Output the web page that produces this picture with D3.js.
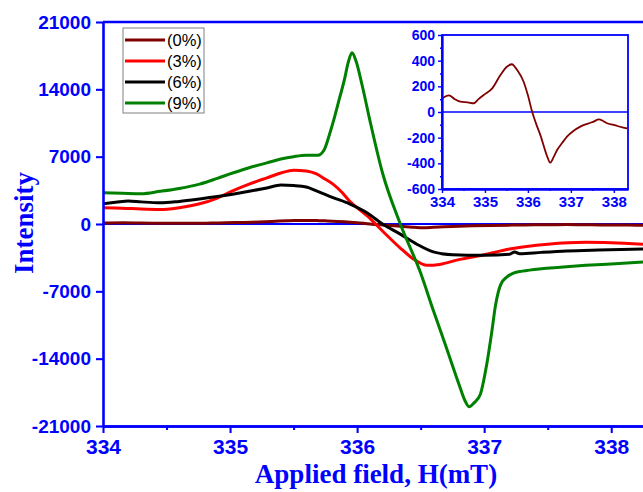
<!DOCTYPE html>
<html>
<head>
<meta charset="utf-8">
<script src="https://cdn.jsdelivr.net/npm/d3@7/dist/d3.min.js"></script>
<style>
	body { margin: 0; background: #ffffff; }
	svg { display: block; }
</style>
</head>
<body>
<script>
// EPR spectra, intensity vs applied field (mT)
var seriesNames = [ "(0%)", "(3%)", "(6%)", "(9%)" ];
var seriesColors = [ "#800000", "#ff0000", "#000000", "#008000" ];

var sig0 = [ [334.0, 106], [334.16, 130], [334.3, 100], [334.43, 80], [334.6, 75], [334.74, 68], [334.85, 100],
		[334.97, 132], [335.17, 184], [335.36, 288], [335.51, 353], [335.63, 372], [335.7, 350], [335.75, 327],
		[335.9, 236], [336.0, 130], [336.1, 0], [336.2, -100], [336.29, -180], [336.45, -348], [336.52, -395],
		[336.6, -350], [336.68, -296], [336.8, -240], [336.91, -192], [337.05, -150], [337.22, -114], [337.4, -90],
		[337.53, -75], [337.65, -57], [337.75, -70], [337.84, -88], [338.0, -100], [338.08, -109], [338.2, -120],
		[338.31, -127] ];

var sig3 = [ [334.0, 1700], [334.15, 1650], [334.3, 1550], [334.45, 1500], [334.6, 1700], [334.76, 2100],
		[334.9, 2700], [335.02, 3450], [335.15, 4150], [335.29, 4800], [335.4, 5300], [335.5, 5600], [335.6, 5500],
		[335.68, 5200], [335.75, 4650], [335.81, 4150], [335.88, 3300], [335.94, 2400], [336.08, 840], [336.2, -730],
		[336.34, -2500], [336.45, -3700], [336.55, -4300], [336.65, -4200], [336.8, -3700], [337.0, -3200],
		[337.2, -2600], [337.5, -2100], [337.8, -1900], [338.0, -1950], [338.25, -2100] ];

var sig6 = [ [334.0, 2100], [334.1, 2250], [334.2, 2400], [334.3, 2300], [334.45, 2200], [334.6, 2350],
		[334.76, 2600], [334.9, 2850], [335.02, 3100], [335.15, 3400], [335.29, 3750], [335.4, 4050], [335.5, 4000],
		[335.6, 3850], [335.68, 3450], [335.81, 2750], [335.94, 2100], [336.08, 1150], [336.2, 0], [336.34, -1050],
		[336.47, -2100], [336.6, -2900], [336.75, -3200], [336.87, -3250], [337.0, -3250], [337.2, -3150],
		[337.24, -2900], [337.28, -3100], [337.45, -2950], [337.65, -2800], [337.9, -2700], [338.25, -2600] ];

var sig9 = [ [334.0, 3250], [334.15, 3200], [334.3, 3150], [334.45, 3400], [334.6, 3700], [334.76, 4150],
		[334.9, 4750], [335.02, 5300], [335.15, 5850], [335.29, 6350], [335.4, 6750], [335.5, 7000], [335.6, 7150],
		[335.69, 7150], [335.74, 7700], [335.78, 9200], [335.82, 11000], [335.86, 13000], [335.9, 15000],
		[335.93, 16800], [335.96, 17800], [335.99, 17000], [336.04, 14400], [336.1, 10800], [336.2, 5300],
		[336.34, 0], [336.5, -5100], [336.6, -9000], [336.7, -12750], [336.8, -16600], [336.85, -18400],
		[336.88, -19000], [336.92, -18600], [336.97, -17700], [337.02, -14600], [337.06, -11200], [337.09, -8400],
		[337.13, -6300], [337.18, -5500], [337.23, -5100], [337.3, -4900], [337.45, -4650], [337.6, -4500],
		[337.8, -4300], [338.0, -4150], [338.25, -3950] ];

var allSeries = [ sig0, sig3, sig6, sig9 ];

var mainYTicks = [ -21000, -14000, -7000, 0, 7000, 14000, 21000 ];
var mainXTicks = [ 334, 335, 336, 337, 338 ];
var mainXMinor = [ 334.5, 335.5, 336.5, 337.5 ];
var insetYTicks = [ -600, -400, -200, 0, 200, 400, 600 ];
var insetYMinor = [ -500, -300, -100, 100, 300, 500 ];
var insetXTicks = [ 334, 335, 336, 337, 338 ];
var insetXMinor = [ 334.5, 335.5, 336.5, 337.5 ];

var W = 643, H = 492;
var blue = "#0000ff";
var sans = "'Liberation Sans', Arial, sans-serif";
var serif = "'Liberation Serif', 'Times New Roman', serif";

var svg = d3.select("body").append("svg")//
.attr("width", W)//
.attr("height", H);

// main plot
var plotLeft = 103, plotTop = 22, plotBottom = 426;
var x = d3.scaleLinear().domain([ 334, 338.25 ]).range([ plotLeft, W ]);
var y = d3.scaleLinear().domain([ -21000, 21000 ]).range([ plotBottom, plotTop ]);

svg.append("clipPath").attr("id", "clipMain")//
.append("rect").attr("x", plotLeft).attr("y", plotTop).attr("width", W - plotLeft).attr("height", plotBottom - plotTop);

function styleAxis(g, size, width) {
	g.attr("color", blue)//
	.attr("font-family", sans)//
	.attr("font-weight", "bold")//
	.attr("font-size", size);
	g.select(".domain").attr("stroke-width", width);
	g.selectAll(".tick line").attr("stroke-width", width * 0.8);
}

var lineMain = d3.line()//
.x(function(d) {
	return x(d[0]);
})//
.y(function(d) {
	return y(d[1]);
})//
.curve(d3.curveMonotoneX);

// zero line
svg.append("line")//
.attr("x1", plotLeft).attr("x2", W)//
.attr("y1", y(0)).attr("y2", y(0))//
.attr("stroke", blue).attr("stroke-width", 2);

svg.append("g").attr("clip-path", "url(#clipMain)")//
.selectAll("path").data(allSeries).enter().append("path")//
.attr("d", lineMain)//
.attr("fill", "none")//
.attr("stroke", function(d, i) {
	return seriesColors[i];
})//
.attr("stroke-width", 3)//
.attr("stroke-linejoin", "round");

// axes
var gx = svg.append("g").attr("transform", "translate(0," + plotBottom + ")")//
.call(d3.axisBottom(x).tickValues(mainXTicks).tickFormat(d3.format("d")).tickSize(7).tickSizeOuter(0).tickPadding(6));
styleAxis(gx, 21, 2.6);
var gxm = svg.append("g").attr("transform", "translate(0," + plotBottom + ")")//
.call(d3.axisBottom(x).tickValues(mainXMinor).tickFormat("").tickSize(4).tickSizeOuter(0));
styleAxis(gxm, 21, 2.6);

var gy = svg.append("g").attr("transform", "translate(" + plotLeft + ",0)")//
.call(d3.axisLeft(y).tickValues(mainYTicks).tickFormat(function(d) {
	return String(d);
}).tickSize(7).tickSizeOuter(0).tickPadding(5));
styleAxis(gy, 19, 2.6);

svg.append("line")//
.attr("x1", plotLeft).attr("x2", W)//
.attr("y1", plotTop).attr("y2", plotTop)//
.attr("stroke", blue).attr("stroke-width", 2.6);

// axis titles
svg.append("text")//
.attr("x", 376).attr("y", 483)//
.attr("text-anchor", "middle")//
.attr("font-family", serif).attr("font-weight", "bold").attr("font-size", 27)//
.attr("fill", blue)//
.text("Applied field, H(mT)");

svg.append("text")//
.attr("transform", "translate(33,223) rotate(-90)")//
.attr("text-anchor", "middle")//
.attr("font-family", serif).attr("font-weight", "bold").attr("font-size", 27)//
.attr("fill", blue)//
.text("Intensity");

// legend
var legend = svg.append("g");
legend.append("rect")//
.attr("x", 123).attr("y", 28).attr("width", 81).attr("height", 85)//
.attr("fill", "#ffffff").attr("stroke", "#808080").attr("stroke-width", 1);
var items = legend.selectAll(".item").data(seriesNames).enter().append("g")//
.attr("class", "item")//
.attr("transform", function(d, i) {
	return "translate(0," + (40 + i * 21) + ")";
});
items.append("line")//
.attr("x1", 125).attr("x2", 165)//
.attr("stroke", function(d, i) {
	return seriesColors[i];
})//
.attr("stroke-width", 3);
items.append("text")//
.attr("x", 167).attr("dy", "0.36em")//
.attr("font-family", sans).attr("font-size", 16.5)//
.attr("fill", "#000000")//
.text(function(d) {
	return d;
});

// inset with the 0% spectrum
var il = 442, ir = 628, it = 35, ib = 189;
var xi = d3.scaleLinear().domain([ 334, 338.33 ]).range([ il, ir ]);
var yi = d3.scaleLinear().domain([ -600, 600 ]).range([ ib, it ]);

var inset = svg.append("g");
inset.append("rect")//
.attr("x", il).attr("y", it).attr("width", ir - il).attr("height", ib - it)//
.attr("fill", "#ffffff");

inset.append("clipPath").attr("id", "clipInset")//
.append("rect").attr("x", il).attr("y", it).attr("width", ir - il).attr("height", ib - it);

inset.append("line")//
.attr("x1", il).attr("x2", ir)//
.attr("y1", yi(0)).attr("y2", yi(0))//
.attr("stroke", blue).attr("stroke-width", 1.6);

inset.append("path").datum(sig0)//
.attr("clip-path", "url(#clipInset)")//
.attr("d", d3.line().x(function(d) {
	return xi(d[0]);
}).y(function(d) {
	return yi(d[1]);
}).curve(d3.curveMonotoneX))//
.attr("fill", "none")//
.attr("stroke", seriesColors[0])//
.attr("stroke-width", 1.8);

var gix = inset.append("g").attr("transform", "translate(0," + ib + ")")//
.call(d3.axisBottom(xi).tickValues(insetXTicks).tickFormat(d3.format("d")).tickSize(4).tickSizeOuter(0).tickPadding(3));
styleAxis(gix, 15, 1.8);
var gixm = inset.append("g").attr("transform", "translate(0," + ib + ")")//
.call(d3.axisBottom(xi).tickValues(insetXMinor).tickFormat("").tickSize(2).tickSizeOuter(0));
styleAxis(gixm, 15, 1.8);

var giy = inset.append("g").attr("transform", "translate(" + il + ",0)")//
.call(d3.axisLeft(yi).tickValues(insetYTicks).tickFormat(function(d) {
	return String(d);
}).tickSize(4).tickSizeOuter(0).tickPadding(3));
styleAxis(giy, 14, 1.8);
var giym = inset.append("g").attr("transform", "translate(" + il + ",0)")//
.call(d3.axisLeft(yi).tickValues(insetYMinor).tickFormat("").tickSize(2).tickSizeOuter(0));
styleAxis(giym, 14, 1.8);

inset.append("rect")//
.attr("x", il).attr("y", it).attr("width", ir - il).attr("height", ib - it)//
.attr("fill", "none").attr("stroke", blue).attr("stroke-width", 1.8);
</script>
</body>
</html>
